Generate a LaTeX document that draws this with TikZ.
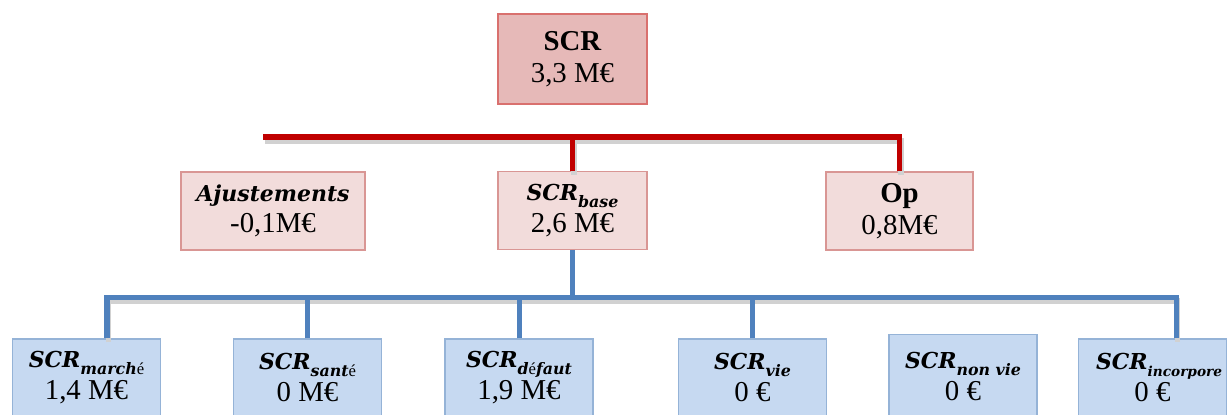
\documentclass[tikz,border=0pt]{standalone}
\usepackage{fontspec}
\setmainfont{Liberation Serif}
\newfontfamily\scrfont{DejaVu Serif}
\usetikzlibrary{calc}
\definecolor{scrred}{RGB}{192,0,0}
\definecolor{scrblue}{RGB}{79,129,189}
\definecolor{topfill}{RGB}{230,185,184}
\definecolor{topdraw}{RGB}{217,112,110}
\definecolor{midfill}{RGB}{242,220,219}
\definecolor{middraw}{RGB}{217,150,148}
\definecolor{lowfill}{RGB}{198,217,241}
\definecolor{lowdraw}{RGB}{149,179,215}
% bold italic label with a lowered index
\newcommand{\scrlab}[2][9]{{\scrfont\bfseries\itshape\fontsize{12.5}{14}\selectfont SCR\raisebox{-0.14cm}{\fontsize{#1}{10}\selectfont #2}}}
\newcommand{\acc}[1]{{\normalfont\fontsize{9.5}{10}\selectfont #1}}

\begin{document}
\begin{tikzpicture}[
    box/.style={draw, line width=0.6pt, inner sep=0pt, align=center, font=\fontsize{16.4}{18}\selectfont},
    topbox/.style={box, fill=topfill, draw=topdraw, minimum width=2.98cm, minimum height=1.8cm},
    midbox/.style={box, fill=midfill, draw=middraw, minimum height=1.56cm},
    lowbox/.style={box, fill=lowfill, draw=lowdraw, minimum width=2.96cm, minimum height=1.54cm},
    redline/.style={draw=scrred, line width=2.85pt},
    blueline/.style={draw=scrblue, line width=2.85pt},
    shade/.style={draw=black!18, line width=3pt, transform canvas={shift={(0.03,-0.08)}}}
]
\useasboundingbox (0,0) rectangle (24.56,-8.28);

\node[topbox] (scr) at (11.45,-1.18) {\textbf{SCR}\\3,3 M€};

\node[midbox, minimum width=3.68cm] (ajust) at (5.46,-4.22) {{\scrfont\bfseries\itshape\fontsize{12.5}{14}\selectfont Ajustements}\\-0,1M€};
\node[midbox, minimum width=2.98cm] (base) at (11.45,-4.21) {\scrlab{base}\\2,6 M€};
\node[midbox, minimum width=2.94cm] (op) at (17.99,-4.22) {\textbf{Op}\\0,8M€};

\node[lowbox] (marche) at (1.73,-7.55) {\scrlab{march\acc{é}}\\1,4 M€};
\node[lowbox] (sante) at (6.15,-7.55) {\scrlab{sant\acc{é}}\\0 M€};
\node[lowbox] (defaut) at (10.38,-7.55) {\scrlab{d\acc{é}faut}\\1,9 M€};
\node[lowbox] (vie) at (15.05,-7.55) {\scrlab{vie}\\0 €};
\node[lowbox, minimum height=1.68cm] (nonvie) at (19.26,-7.53) {\scrlab{non vie}\\0 €};
\node[lowbox] (incorp) at (23.05,-7.55) {\makebox[2.26cm][l]{\scrlab[7.8]{incorpore}}\\0 €};

% bus ends
\coordinate (rl) at (5.26,-2.74);
\coordinate (bl) at (2.14,-5.94);
\coordinate (br) at (23.52,-5.94);

% red level
\draw[shade] (rl) -| (op.north);
\draw[shade] (base.north) -- (base.north |- rl);
\draw[redline] (rl) -| (op.north);
\draw[redline] (base.north) -- (base.north |- rl);

% blue level
\draw[shade] (marche.north -| bl) -- (bl) -- (br) -- (br |- incorp.north);
\draw[blueline] (base.south) -- (base.south |- bl);
\draw[blueline] (marche.north -| bl) -- (bl) -- (br) -- (br |- incorp.north);
\foreach \n in {sante,defaut,vie}
    \draw[blueline] (\n.north) -- (\n.north |- bl);
\end{tikzpicture}
\end{document}
